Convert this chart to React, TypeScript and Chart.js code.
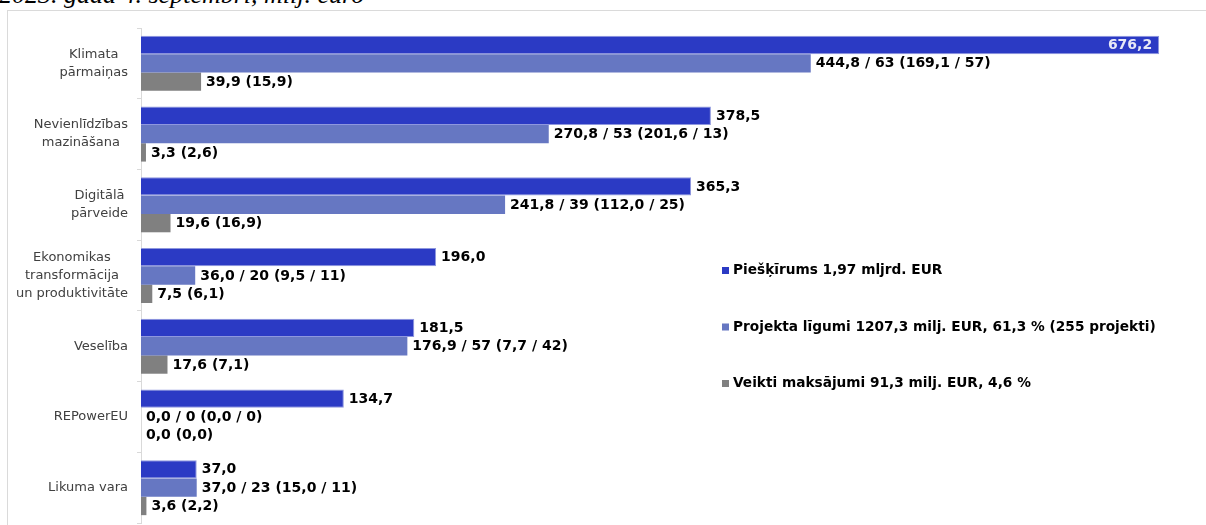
import React, { useEffect, useRef } from "react";
import { Chart, registerables } from "chart.js";

Chart.register(...registerables);

const titleText = "2023. gada 4. septembrī, milj. euro";
const categories: string[][] = [
  ["Klimata", "pārmaiņas"],
  ["Nevienlīdzības", "mazināšana"],
  ["Digitālā", "pārveide"],
  ["Ekonomikas", "transformācija", "un produktivitāte"],
  ["Veselība"],
  ["REPowerEU"],
  ["Likuma vara"],
];
const seriesNames = [
  "Piešķīrums 1,97 mljrd. EUR",
  "Projekta līgumi 1207,3 milj. EUR, 61,3 % (255 projekti)",
  "Veikti maksājumi 91,3 milj. EUR, 4,6 %",
];
const allocation = [676.2, 378.5, 365.3, 196.0, 181.5, 134.7, 37.0];
const contracts = [444.8, 270.8, 241.8, 36.0, 176.9, 0.0, 37.0];
const contractCounts = [63, 53, 39, 20, 57, 0, 23];
const contractsSub = [169.1, 201.6, 112.0, 9.5, 7.7, 0.0, 15.0];
const contractsSubCounts = [57, 13, 25, 11, 42, 0, 11];
const payments = [39.9, 3.3, 19.6, 7.5, 17.6, 0.0, 3.6];
const paymentsSub = [15.9, 2.6, 16.9, 6.1, 7.1, 0.0, 2.2];

const colors = ["#2B3AC4", "#6677C2", "#808080"];

const fmt = (v: number) => v.toFixed(1).replace(".", ",");

const labelTexts: string[][] = [
  allocation.map((v) => fmt(v)),
  contracts.map(
    (v, i) =>
      `${fmt(v)} / ${contractCounts[i]} (${fmt(contractsSub[i])} / ${contractsSubCounts[i]})`
  ),
  payments.map((v, i) => `${fmt(v)} (${fmt(paymentsSub[i])})`),
];

const FONT = '"DejaVu Sans", Verdana, sans-serif';

const customDraw = {
  id: "customDraw",
  afterDatasetsDraw(chart: any) {
    const ctx = chart.ctx;
    const area = chart.chartArea;
    ctx.save();
    // data labels
    ctx.font = `bold 14px ${FONT}`;
    ctx.textBaseline = "middle";
    chart.data.datasets.forEach((_ds: any, di: number) => {
      const meta = chart.getDatasetMeta(di);
      meta.data.forEach((el: any, i: number) => {
        const txt = labelTexts[di][i];
        const w = ctx.measureText(txt).width;
        const end = el.x;
        if (end + 5 + w > chart.width - 2) {
          ctx.fillStyle = "#E8E9F6";
          ctx.textAlign = "right";
          ctx.fillText(txt, end - 7, el.y + 0.5);
        } else {
          ctx.fillStyle = "#000000";
          ctx.textAlign = "left";
          ctx.fillText(txt, end + 5, el.y + 0.5);
        }
      });
    });
    // category labels (block right-aligned, lines centered)
    const yScale = chart.scales.y;
    ctx.font = `13px ${FONT}`;
    ctx.fillStyle = "#404040";
    ctx.textAlign = "center";
    const lh = 18;
    categories.forEach((lines, i) => {
      const yc = yScale.getPixelForValue(i);
      const bw = Math.max(...lines.map((l) => ctx.measureText(l).width));
      const cx = area.left - 13 - bw / 2;
      const y0 = yc - ((lines.length - 1) * lh) / 2;
      lines.forEach((l, k) => ctx.fillText(l, cx, y0 + k * lh));
    });
    // legend
    ctx.font = `bold 13.7px ${FONT}`;
    ctx.textAlign = "left";
    const lx = 722;
    const ly = 270;
    const step = 56.5;
    seriesNames.forEach((name, k) => {
      const y = ly + k * step;
      ctx.fillStyle = colors[k];
      ctx.fillRect(lx, y - 3, 7, 7);
      ctx.fillStyle = "#000000";
      ctx.fillText(name, lx + 11, y + 0.5);
    });
    ctx.restore();
  },
};

export default function App() {
  const ref = useRef<HTMLCanvasElement | null>(null);
  useEffect(() => {
    if (!ref.current) return;
    const chart = new Chart(ref.current, {
      type: "bar",
      data: {
        labels: categories.map((c) => c.join(" ")),
        datasets: [
          {
            label: seriesNames[0],
            data: allocation,
            backgroundColor: colors[0],
            borderColor: "#8E97DE",
            borderWidth: 1,
          },
          {
            label: seriesNames[1],
            data: contracts,
            backgroundColor: colors[1],
            borderWidth: 0,
          },
          {
            label: seriesNames[2],
            data: payments,
            backgroundColor: colors[2],
            borderWidth: 0,
          },
        ],
      },
      options: {
        indexAxis: "y",
        responsive: false,
        animation: false,
        events: [],
        layout: { padding: { left: 0, top: 28, right: 11, bottom: 2 } },
        datasets: {
          bar: { categoryPercentage: 0.778, barPercentage: 1 },
        },
        plugins: {
          legend: { display: false },
          tooltip: { enabled: false },
          title: { display: false },
        },
        scales: {
          x: { display: false, min: 0, max: 700 },
          y: {
            position: "left",
            afterFit: (s: any) => {
              s.width = 141;
            },
            border: { display: true, color: "#D9D9D9", width: 1 },
            grid: {
              display: true,
              drawOnChartArea: false,
              drawTicks: true,
              tickLength: 4,
              color: "#D9D9D9",
              offset: true,
            },
            ticks: { display: false },
          },
        },
      },
      plugins: [customDraw],
    });
    return () => chart.destroy();
  }, []);

  return (
    <div
      style={{
        position: "fixed",
        left: 0,
        top: 0,
        width: 1206,
        height: 525,
        overflow: "hidden",
        background: "#ffffff",
      }}
    >
      <div
        style={{
          position: "absolute",
          left: -1,
          top: -18,
          fontFamily: '"Liberation Serif", "Times New Roman", serif',
          fontStyle: "italic",
          fontSize: 26,
          lineHeight: "26px",
          whiteSpace: "nowrap",
          color: "#000",
        }}
      >
        {titleText}
      </div>
      <div
        style={{
          position: "absolute",
          left: 7,
          top: 10,
          width: 1210,
          height: 600,
          border: "1px solid #DADADA",
          boxSizing: "border-box",
        }}
      />
      <canvas
        ref={ref}
        width={1206}
        height={525}
        style={{ position: "absolute", left: 0, top: 0, width: 1206, height: 525 }}
      />
    </div>
  );
}
